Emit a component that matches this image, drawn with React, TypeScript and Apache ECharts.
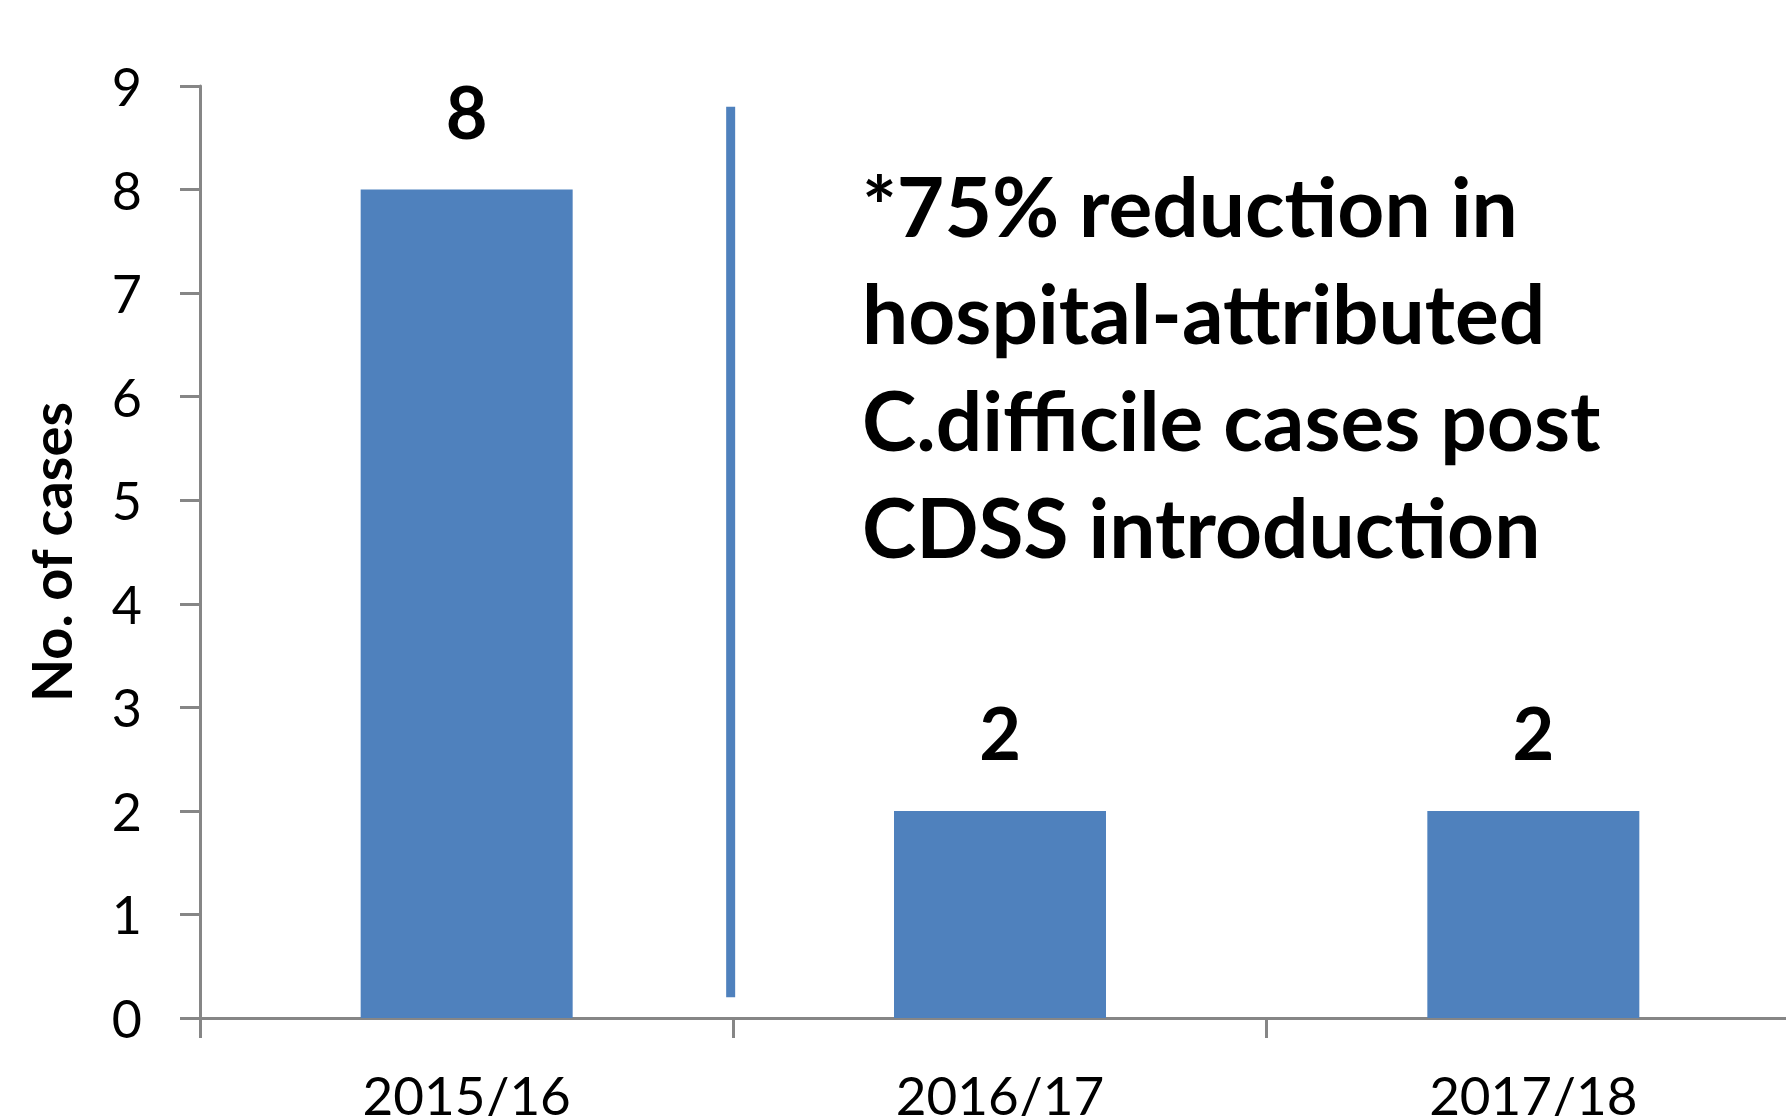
import React, { useEffect, useRef } from "react";
import * as echarts from "echarts";

const categories = ["2015/16", "2016/17", "2017/18"];
const cases = [8, 2, 2];
const yTicks = { min: 0, max: 9, interval: 1 };
const dividerX = [0.995, 0.995];
const dividerY = [0.2, 8.8];
const annotation = [
  "*75% reduction in",
  "hospital-attributed",
  "C.difficile cases post",
  "CDSS introduction",
];

const FONT = "Lato, 'Noto Sans', sans-serif";
const BLUE = "#4F81BD";
const AXIS = "#868686";

export default function App() {
  const ref = useRef<HTMLDivElement>(null);
  useEffect(() => {
    if (!ref.current) return;
    const chart = echarts.init(ref.current, undefined, { renderer: "svg" });
    chart.setOption({
      animation: false,
      backgroundColor: "#ffffff",
      grid: {
        left: 200,
        top: 86,
        width: 1600,
        height: 932,
        outerBoundsMode: "none",
        containLabel: false,
      },
      xAxis: [
        {
          type: "category",
          data: categories,
          axisLine: { lineStyle: { color: AXIS, width: 3 } },
          axisTick: { show: true, length: 20, lineStyle: { color: AXIS, width: 3 } },
          axisLabel: {
            color: "#000",
            fontFamily: FONT,
            fontSize: 53,
            margin: 50,
          },
        },
        {
          type: "value",
          show: false,
          min: 0,
          max: 3,
        },
      ],
      yAxis: {
        type: "value",
        min: yTicks.min,
        max: yTicks.max,
        interval: yTicks.interval,
        name: "No. of cases",
        nameLocation: "middle",
        nameGap: 122,
        nameRotate: 90,
        nameTextStyle: {
          color: "#000",
          fontFamily: FONT,
          fontSize: 56,
          fontWeight: "bold",
        },
        splitLine: { show: false },
        axisLine: { show: true, lineStyle: { color: AXIS, width: 3 } },
        axisTick: { show: true, inside: false, length: 20, lineStyle: { color: AXIS, width: 3 } },
        axisLabel: {
          color: "#000",
          fontFamily: FONT,
          fontSize: 52,
          margin: 58,
        },
      },
      series: [
        {
          type: "bar",
          xAxisIndex: 0,
          data: cases,
          barWidth: 212,
          itemStyle: { color: BLUE },
          label: {
            show: true,
            position: "top",
            distance: 43,
            color: "#000",
            fontFamily: FONT,
            fontSize: 72,
            fontWeight: "bold",
          },
        },
        {
          type: "line",
          xAxisIndex: 1,
          data: dividerX.map((x, i) => [x, dividerY[i]]),
          symbol: "none",
          lineStyle: { color: BLUE, width: 9, cap: "butt" },
          silent: true,
        },
      ],
      graphic: [
        {
          type: "text",
          left: 862,
          top: 151,
          style: {
            text: annotation.join("\n"),
            fontFamily: FONT,
            fontSize: 82,
            fontWeight: "bold",
            lineHeight: 107,
            fill: "#000",
          },
        },
      ],
    });
    return () => chart.dispose();
  }, []);
  return (
    <div
      ref={ref}
      style={{ position: "fixed", left: 0, top: 0, width: 1786, height: 1116 }}
    />
  );
}
